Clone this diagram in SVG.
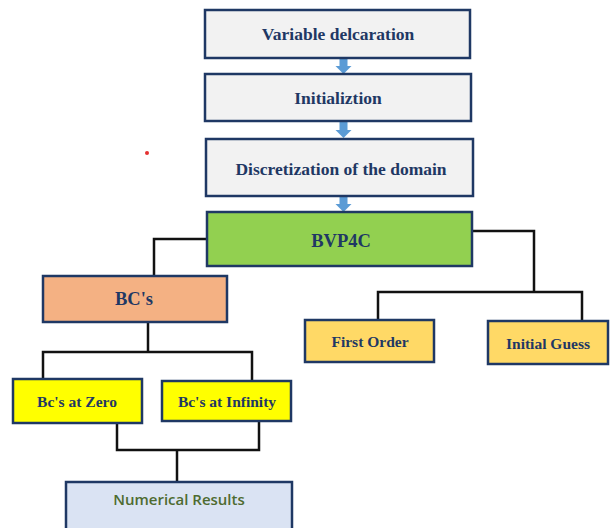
<svg xmlns="http://www.w3.org/2000/svg" width="610" height="528" viewBox="0 0 610 528">
<defs>
<style>
.box{stroke:#1F3864;stroke-width:2.5}
.grey{fill:#F2F2F2}
.t{font-family:"Liberation Serif","Times New Roman",serif;font-weight:bold;fill:#1F3864;text-anchor:middle}
.big{font-size:17.5px}
.xl{font-size:18.5px}
.sm{font-size:15.5px}
.conn{fill:none;stroke:#111;stroke-width:2.5}
.arr{fill:#5B9BD5}
</style>
<path id="arrow" class="arr" d="M-4,0 H4 V8 H8 L0,16 L-8,8 H-4 Z"/>
</defs>
<rect width="610" height="528" fill="#fff"/>
<g id="connectors">
<polyline class="conn" points="206,239 154,239 154,276"/>
<polyline class="conn" points="472,231 534,231 534,292"/>
<polyline class="conn" points="378,320 378,292 582,292 582,320"/>
<polyline class="conn" points="148,322 148,352"/>
<polyline class="conn" points="43,379 43,352 252,352 252,381"/>
<polyline class="conn" points="117,423 117,450 259,450 259,421"/>
<polyline class="conn" points="177,450 177,482"/>
<use href="#arrow" x="343.5" y="58"/>
<use href="#arrow" x="343.5" y="122"/>
<use href="#arrow" x="343.5" y="196"/>
</g>
<g id="n1"><rect class="box grey" x="205" y="10" width="265" height="48"/><text class="t big" x="338" y="40">Variable delcaration</text></g>
<g id="n2"><rect class="box grey" x="205" y="74" width="266" height="47"/><text class="t big" x="338" y="104">Initializtion</text></g>
<g id="n3"><rect class="box grey" x="206" y="139" width="267" height="57"/><text class="t big" x="341" y="175">Discretization of the domain</text></g>
<g id="n4"><rect class="box" fill="#92D050" x="207" y="212" width="265" height="54"/><text class="t xl" x="341" y="247">BVP4C</text></g>
<g id="n5"><rect class="box" fill="#F4B183" x="43" y="276" width="184" height="46"/><text class="t xl" x="134" y="305">BC's</text></g>
<g id="n6"><rect class="box" fill="#FFD966" x="305" y="320" width="129" height="42"/><text class="t sm" x="370" y="347">First Order</text></g>
<g id="n7"><rect class="box" fill="#FFD966" x="488" y="321" width="120" height="43"/><text class="t sm" x="548" y="349">Initial Guess</text></g>
<g id="n8"><rect class="box" fill="#FFFF00" x="13" y="379" width="129" height="44"/><text class="t sm" x="77" y="407">Bc's at Zero</text></g>
<g id="n9"><rect class="box" fill="#FFFF00" x="162" y="381" width="129" height="40"/><text class="t sm" x="227" y="407">Bc's at Infinity</text></g>
<g id="n10"><rect class="box" fill="#DAE3F3" x="66" y="482" width="226" height="56"/><text x="179" y="505" font-family="'Open Sans','Liberation Sans',sans-serif" font-size="15" font-weight="600" fill="#4E6B30" text-anchor="middle">Numerical Results</text></g>
<circle cx="147" cy="153" r="2" fill="#E53030"/>
</svg>
